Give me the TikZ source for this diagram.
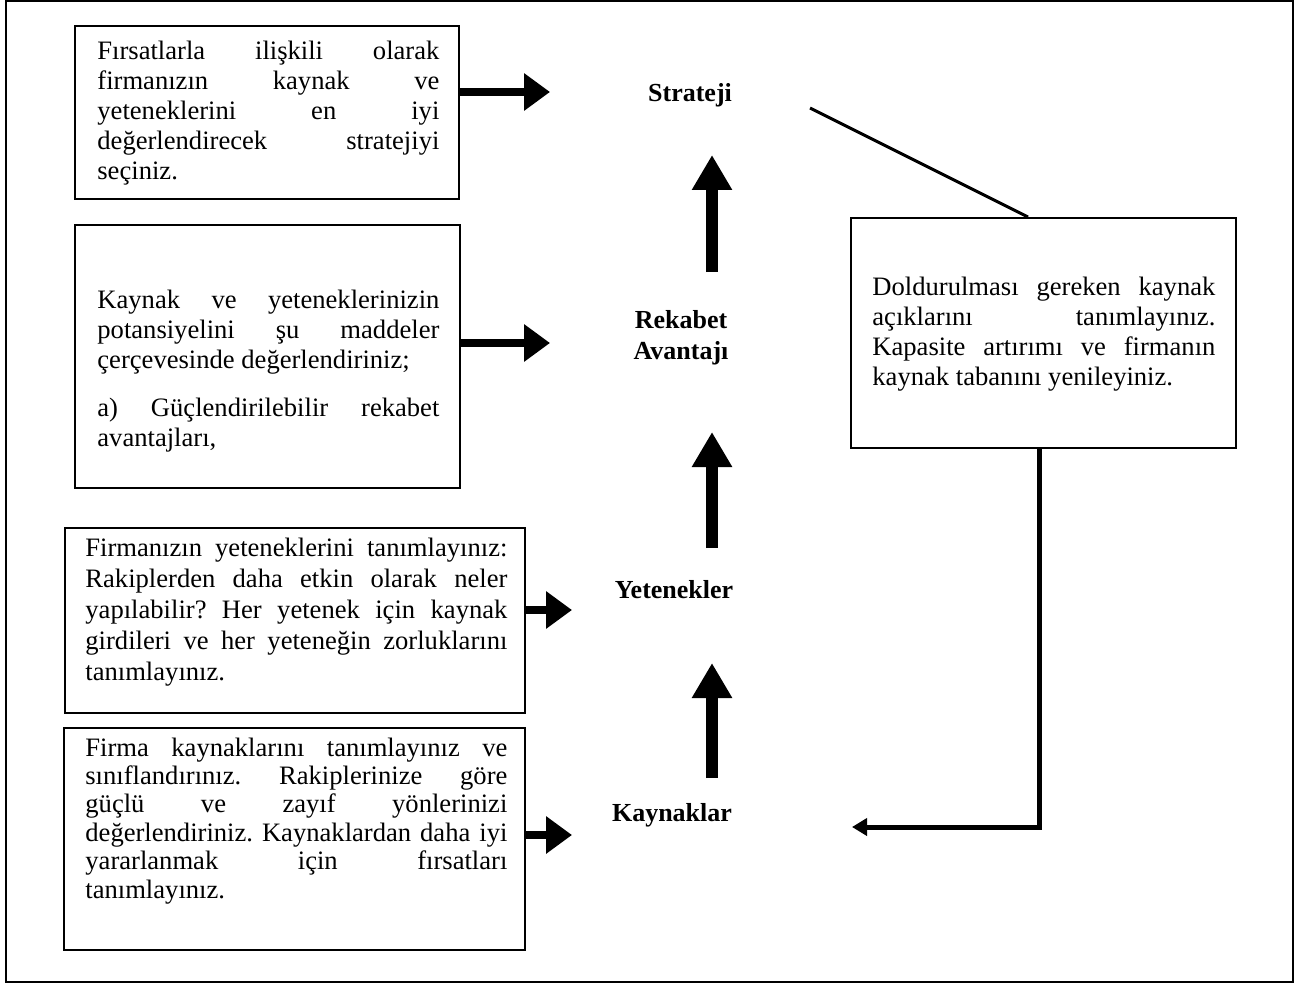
\documentclass[tikz,border=0pt]{standalone}
\usepackage{fontspec}
\setmainfont{Liberation Serif}
\usetikzlibrary{arrows.meta}
\tolerance=9999
\hbadness=10000
\frenchspacing

\begin{document}
\begin{tikzpicture}[x=0.5pt,y=-0.5pt,
  boxline/.style={draw,line width=1pt,inner sep=0pt},
  boxtext/.style={inner sep=0pt,align=justify,anchor=base west},
  stage/.style={font=\bfseries\fontsize{13}{15.5}\selectfont,inner sep=0pt,align=center},
  sidearrow/.style={line width=4pt,-{Triangle[width=18pt,length=13pt]}},
  uparrow/.style={line width=6pt,-{Triangle[width=19pt,length=17.5pt]}},
  backarrow/.style={line width=2.5pt,-{Triangle[width=8.5pt,length=7.5pt]}},
  ]
\useasboundingbox (0,0) rectangle (1300,984);

% outer frame
\node[boxline,minimum width=643.5pt,minimum height=490.5pt] (frame) at (649.5,491.5) {};

% description boxes on the left
\node[boxline,minimum width=192pt,minimum height=86.5pt] (b1) at (267,112.5) {};
\node[boxline,minimum width=192.5pt,minimum height=131.5pt] (b2) at (267.5,356.5) {};
\node[boxline,minimum width=230pt,minimum height=92.5pt] (b3) at (295,620.5) {};
\node[boxline,minimum width=230.5pt,minimum height=111pt] (b4) at (294.5,839) {};

% box on the right
\node[boxline,minimum width=192.5pt,minimum height=115pt] (rb) at (1043.5,333) {};

% box texts
\node[boxtext,text width=171pt,font=\fontsize{13.3}{15}\selectfont] (t1) at (97,60)
  {Fırsatlarla ilişkili olarak\linebreak firmanızın kaynak ve\linebreak
   yeteneklerini en iyi\linebreak değerlendirecek stratejiyi\linebreak seçiniz.};
\node[boxtext,text width=171pt,font=\fontsize{13.3}{15}\selectfont] (t2) at (97,308)
  {Kaynak ve yeteneklerinizin\linebreak potansiyelini şu maddeler\linebreak
   çerçevesinde değerlendiriniz;\par\vspace{9pt}
   a) Güçlendirilebilir rekabet\linebreak avantajları,};
\node[boxtext,text width=211pt,font=\fontsize{13.3}{15.5}\selectfont] (t3) at (85,556)
  {Firmanızın yeteneklerini tanımlayınız:\linebreak Rakiplerden daha etkin olarak neler\linebreak
   yapılabilir? Her yetenek için kaynak\linebreak girdileri ve her yeteneğin zorluklarını\linebreak
   tanımlayınız.};
\node[boxtext,text width=211pt,font=\fontsize{13.3}{14.2}\selectfont] (t4) at (85,756)
  {Firma kaynaklarını tanımlayınız ve\linebreak sınıflandırınız. Rakiplerinize göre\linebreak
   güçlü ve zayıf yönlerinizi\linebreak değerlendiriniz. Kaynaklardan daha iyi\linebreak
   yararlanmak için fırsatları\linebreak tanımlayınız.};
\node[boxtext,text width=171.5pt,font=\fontsize{13.3}{15}\selectfont] (tr) at (872,295)
  {Doldurulması gereken kaynak\linebreak açıklarını tanımlayınız.\linebreak
   Kapasite artırımı ve firmanın\linebreak kaynak tabanını yenileyiniz.};

% stages in the middle column
\node[stage] (str) at (690,95) {Strateji};
\node[stage] (rek) at (681,337.5) {Rekabet\\Avantajı};
\node[stage] (yet) at (674,590) {Yetenekler};
\node[stage] (kay) at (672,815) {Kaynaklar};

% arrow end points
\coordinate (h1) at (550,92);
\coordinate (h2) at (550,343);
\coordinate (h3) at (572,610);
\coordinate (h4) at (572,835);
\coordinate (v1s) at (712,272);
\coordinate (v1e) at (712,155);
\coordinate (v2s) at (712,548);
\coordinate (v2e) at (712,432);
\coordinate (v3s) at (712,778);
\coordinate (v3e) at (712,663);
\coordinate (dstart) at (810,108);
\coordinate (dx) at (1028,0);
\coordinate (cx) at (1039,0);
\coordinate (back) at (852,827);

% arrows from the boxes towards the stages
\draw[sidearrow] (b1.east |- h1) -- (h1);
\draw[sidearrow] (b2.east |- h2) -- (h2);
\draw[sidearrow] (b3.east |- h3) -- (h3);
\draw[sidearrow] (b4.east |- h4) -- (h4);

% upward arrows between the stages
\draw[uparrow] (v1s) -- (v1e);
\draw[uparrow] (v2s) -- (v2e);
\draw[uparrow] (v3s) -- (v3e);

% feedback loop through the right box
\draw[line width=1.5pt] (dstart) -- (rb.north -| dx);
\draw[backarrow] (rb.south -| cx) |- (back);
\end{tikzpicture}
\end{document}
